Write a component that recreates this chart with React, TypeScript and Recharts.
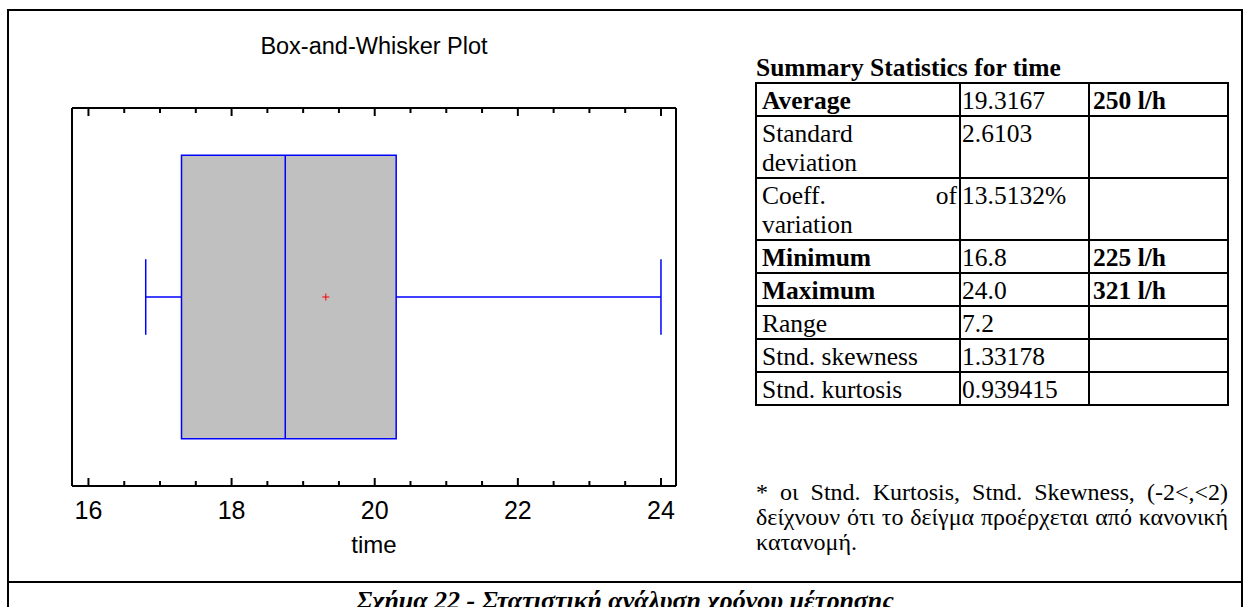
import React from 'react';
import { ComposedChart, XAxis, YAxis, Scatter, ReferenceArea, ReferenceLine } from 'recharts';

// box-plot values for "time"
const fiveNumber = [16.8, 17.3, 18.75, 20.3, 24.0]; // min, q1, median, q3, max
const meanValue = 19.3167;
const xDomain = [15.77, 24.21];
const xTicks = [16, 16.5, 17, 17.5, 18, 18.5, 19, 19.5, 20, 20.5, 21, 21.5, 22, 22.5, 23, 23.5, 24];
const tickLabels = [16, 18, 20, 22, 24];

// summary table
const statNames = ['Average', 'Standard deviation', 'Coeff. of variation', 'Minimum', 'Maximum', 'Range', 'Stnd. skewness', 'Stnd. kurtosis'];
const statValues = ['19.3167', '2.6103', '13.5132%', '16.8', '24.0', '7.2', '1.33178', '0.939415'];
const flowRates = ['250 l/h', '', '', '225 l/h', '321 l/h', '', '', ''];
const boldRows = [true, false, false, true, true, false, false, false];

const BLUE = '#0000ff';
const SANS = '"Liberation Sans", Arial, sans-serif';
const SERIF = '"Liberation Serif", "Times New Roman", serif';

// tick marks point into the plot, labels only on the even values
const BottomTick = (props: any) => {
    const { x, y, payload } = props;
    const major = tickLabels.includes(payload.value);
    return (
        <g>
            <path d={`M${x},${y} V${y - (major ? 8 : 5)}`} stroke="#000" strokeWidth={2} fill="none" />
            {major && (
                <text x={x} y={y + 33} textAnchor="middle" fontSize={25} fontFamily={SANS} fill="#000">
                    {payload.value}
                </text>
            )}
        </g>
    );
};

const TopTick = (props: any) => {
    const { x, y, payload } = props;
    const major = tickLabels.includes(payload.value);
    return <path d={`M${x},${y} V${y + (major ? 8 : 5)}`} stroke="#000" strokeWidth={2} fill="none" />;
};

const MeanCross = (props: any) => {
    const { cx, cy } = props;
    return (
        <g>
            <line x1={cx - 3.5} y1={cy} x2={cx + 3.5} y2={cy} stroke="#ff0000" strokeWidth={1} />
            <line x1={cx} y1={cy - 3.5} x2={cx} y2={cy + 3.5} stroke="#ff0000" strokeWidth={1} />
        </g>
    );
};

const NameCell = ({ name }: { name: string }) => {
    const words = name.split(' ');
    if (name.length > 16 && words.length > 1) {
        const first = words.slice(0, -1);
        return (
            <>
                <div style={{ display: 'flex', justifyContent: first.length > 1 ? 'space-between' : 'flex-start' }}>
                    {first.map((w, i) => <span key={i}>{w}</span>)}
                </div>
                <div>{words[words.length - 1]}</div>
            </>
        );
    }
    return <>{name}</>;
};

const App: React.FC = () => {
    const [lo, q1, med, q3, hi] = fiveNumber;
    const boxLow = 0.125;
    const boxHigh = 0.875;
    const capLow = 0.4;
    const capHigh = 0.6;
    const mid = 0.5;
    const cell: React.CSSProperties = { border: '2px solid #000', padding: '2px 2px 0 3px', verticalAlign: 'top' };
    const frame = { stroke: '#000', strokeWidth: 2 };

    return (
        <div style={{ position: 'absolute', left: 0, top: 0, width: 1246, height: 607, overflow: 'hidden', background: '#fff' }}>
            <div style={{ position: 'absolute', left: 7, top: 9, width: 1232, height: 640, border: '2px solid #000' }} />
            <div style={{ position: 'absolute', left: 7, top: 581, width: 1236, height: 2, background: '#000' }} />

            <div style={{ position: 'absolute', left: 72, width: 604, top: 33, textAlign: 'center', fontFamily: SANS, fontSize: 23.5, color: '#000' }}>
                Box-and-Whisker Plot
            </div>

            <div style={{ position: 'absolute', left: 0, top: 0 }}>
                <ComposedChart width={720} height={607} margin={{ top: 107, right: 43, bottom: 51, left: 71 }}>
                    <XAxis
                        xAxisId="bottom"
                        type="number"
                        dataKey="x"
                        domain={xDomain}
                        allowDataOverflow
                        ticks={xTicks}
                        interval={0}
                        tick={<BottomTick />}
                        tickLine={false}
                        tickSize={0}
                        tickMargin={0}
                        height={70}
                        axisLine={frame}
                        label={{ value: 'time', position: 'insideBottom', offset: 3, fill: '#000', fontSize: 24, fontFamily: SANS }}
                    />
                    <XAxis
                        xAxisId="top"
                        orientation="top"
                        type="number"
                        dataKey="x"
                        domain={xDomain}
                        allowDataOverflow
                        ticks={xTicks}
                        interval={0}
                        tick={<TopTick />}
                        tickLine={false}
                        tickSize={0}
                        tickMargin={0}
                        height={1}
                        axisLine={frame}
                    />
                    <YAxis yAxisId="left" type="number" dataKey="y" domain={[0, 1]} tick={false} tickLine={false} width={1} axisLine={frame} />
                    <YAxis yAxisId="right" orientation="right" type="number" dataKey="y" domain={[0, 1]} tick={false} tickLine={false} width={1} axisLine={frame} />

                    <ReferenceArea xAxisId="bottom" yAxisId="left" x1={q1} x2={q3} y1={boxLow} y2={boxHigh} fill="#c0c0c0" fillOpacity={1} stroke={BLUE} strokeWidth={1.5} />
                    <ReferenceLine xAxisId="bottom" yAxisId="left" segment={[{ x: med, y: boxLow }, { x: med, y: boxHigh }]} stroke={BLUE} strokeWidth={1.5} />
                    <ReferenceLine xAxisId="bottom" yAxisId="left" segment={[{ x: lo, y: mid }, { x: q1, y: mid }]} stroke={BLUE} strokeWidth={1.5} />
                    <ReferenceLine xAxisId="bottom" yAxisId="left" segment={[{ x: q3, y: mid }, { x: hi, y: mid }]} stroke={BLUE} strokeWidth={1.5} />
                    <ReferenceLine xAxisId="bottom" yAxisId="left" segment={[{ x: lo, y: capLow }, { x: lo, y: capHigh }]} stroke={BLUE} strokeWidth={1.5} />
                    <ReferenceLine xAxisId="bottom" yAxisId="left" segment={[{ x: hi, y: capLow }, { x: hi, y: capHigh }]} stroke={BLUE} strokeWidth={1.5} />

                    <Scatter xAxisId="bottom" yAxisId="left" data={[{ x: meanValue, y: mid }]} shape={<MeanCross />} isAnimationActive={false} />
                </ComposedChart>
            </div>

            <div style={{ position: 'absolute', left: 756, top: 53, fontFamily: SERIF, fontSize: 25.5, lineHeight: '29px', fontWeight: 'bold', color: '#000', whiteSpace: 'nowrap' }}>
                Summary Statistics for time
            </div>

            <table style={{ position: 'absolute', left: 755, top: 82, borderCollapse: 'collapse', tableLayout: 'fixed', width: 474, fontFamily: SERIF, fontSize: 25.5, lineHeight: '29px', color: '#000' }}>
                <colgroup>
                    <col style={{ width: 204 }} />
                    <col style={{ width: 129 }} />
                    <col style={{ width: 139 }} />
                </colgroup>
                <tbody>
                    {statNames.map((name, i) => (
                        <tr key={name}>
                            <td style={{ ...cell, paddingLeft: 5, fontWeight: boldRows[i] ? 'bold' : 'normal' }}>
                                <NameCell name={name} />
                            </td>
                            <td style={{ ...cell, paddingLeft: 1 }}>{statValues[i]}</td>
                            <td style={{ ...cell, fontWeight: 'bold' }}>{flowRates[i]}</td>
                        </tr>
                    ))}
                </tbody>
            </table>

            <div style={{ position: 'absolute', left: 756, top: 480, width: 472, fontFamily: SERIF, fontSize: 24, lineHeight: '25px', color: '#000', textAlign: 'justify' }}>
                * οι Stnd. Kurtosis, Stnd. Skewness, (-2&lt;,&lt;2) δείχνουν ότι το δείγμα προέρχεται από κανονική κατανομή.
            </div>

            <div style={{ position: 'absolute', left: 7, width: 1236, top: 586, textAlign: 'center', fontFamily: SERIF, fontSize: 26, lineHeight: '30px', fontWeight: 'bold', fontStyle: 'italic', color: '#000', whiteSpace: 'nowrap' }}>
                Σχήμα 22 - Στατιστική ανάλυση χρόνου μέτρησης
            </div>
        </div>
    );
};

export default App;
